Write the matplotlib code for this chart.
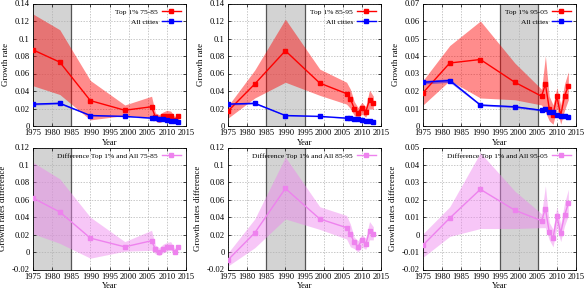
import matplotlib
matplotlib.use("Agg")
import matplotlib.pyplot as plt
import numpy as np

plt.rcParams['font.family'] = ['Liberation Serif', 'DejaVu Serif']

years = [1975, 1982, 1990, 1999, 2006, 2007, 2008, 2009, 2010, 2011, 2012, 2013]

all_cities = [0.025, 0.026, 0.012, 0.011, 0.009, 0.0095, 0.008, 0.008, 0.0065, 0.006, 0.006, 0.005]
all_lo = [0.024, 0.025, 0.0115, 0.0105, 0.0085, 0.009, 0.0075, 0.0075, 0.006, 0.0055, 0.0055, 0.0045]
all_hi = [0.026, 0.027, 0.0125, 0.0115, 0.0095, 0.010, 0.0085, 0.0085, 0.007, 0.0065, 0.0065, 0.0055]

top_75 = [0.087, 0.073, 0.029, 0.018, 0.022, 0.010, 0.008, 0.011, 0.012, 0.012, 0.007, 0.011]
top_75_hi = [0.128, 0.110, 0.052, 0.024, 0.034, 0.015, 0.013, 0.016, 0.018, 0.017, 0.011, 0.014]
top_75_lo = [0.046, 0.036, 0.007, 0.012, 0.010, 0.006, 0.004, 0.006, 0.007, 0.007, 0.004, 0.008]

top_85 = [0.017, 0.048, 0.086, 0.049, 0.037, 0.031, 0.020, 0.015, 0.021, 0.016, 0.030, 0.026]
top_85_hi = [0.023, 0.064, 0.122, 0.065, 0.050, 0.042, 0.028, 0.021, 0.027, 0.022, 0.041, 0.034]
top_85_lo = [0.009, 0.032, 0.050, 0.035, 0.025, 0.020, 0.012, 0.009, 0.014, 0.010, 0.020, 0.019]

top_95 = [0.019, 0.036, 0.038, 0.025, 0.017, 0.024, 0.010, 0.0065, 0.017, 0.006, 0.017, 0.023]
top_95_hi = [0.026, 0.046, 0.060, 0.036, 0.021, 0.040, 0.017, 0.012, 0.022, 0.012, 0.024, 0.031]
top_95_lo = [0.012, 0.026, 0.016, 0.015, 0.012, 0.008, 0.003, 0.001, 0.010, 0.001, 0.009, 0.015]

diff_75 = [0.062, 0.046, 0.016, 0.006, 0.013, 0.003, 0.000, 0.004, 0.006, 0.006, 0.000, 0.006]
diff_75_hi = [0.103, 0.084, 0.040, 0.012, 0.025, 0.008, 0.005, 0.009, 0.011, 0.012, 0.004, 0.008]
diff_75_lo = [0.021, 0.010, -0.007, 0.001, 0.002, -0.002, -0.004, -0.001, 0.001, 0.002, -0.002, 0.004]

diff_85 = [-0.009, 0.022, 0.073, 0.038, 0.028, 0.021, 0.011, 0.006, 0.014, 0.009, 0.024, 0.021]
diff_85_hi = [-0.001, 0.038, 0.109, 0.052, 0.042, 0.032, 0.017, 0.013, 0.020, 0.016, 0.035, 0.029]
diff_85_lo = [-0.016, 0.005, 0.038, 0.026, 0.015, 0.006, 0.004, 0.000, 0.006, 0.003, 0.014, 0.014]

diff_95 = [-0.006, 0.0095, 0.026, 0.014, 0.008, 0.015, 0.0015, -0.002, 0.0105, 0.001, 0.011, 0.018]
diff_95_hi = [0.0005, 0.016, 0.047, 0.025, 0.012, 0.028, 0.007, 0.003, 0.016, 0.006, 0.018, 0.026]
diff_95_lo = [-0.013, -0.001, 0.0035, 0.0035, 0.004, 0.004, -0.003, -0.007, 0.004, -0.004, 0.005, 0.011]

periods = [(1975, 1985), (1985, 1995), (1995, 2005)]
labels_top = ["Top 1% 75-85", "Top 1% 85-95", "Top 1% 95-05"]
labels_diff = ["Difference Top 1% and All 75-85", "Difference Top 1% and All 85-95",
               "Difference Top 1% and All 95-05"]
top_data = [(top_75, top_75_lo, top_75_hi), (top_85, top_85_lo, top_85_hi), (top_95, top_95_lo, top_95_hi)]
diff_data = [(diff_75, diff_75_lo, diff_75_hi), (diff_85, diff_85_lo, diff_85_hi), (diff_95, diff_95_lo, diff_95_hi)]
top_ylim = [(0, 0.14, 0.02), (0, 0.14, 0.02), (0, 0.07, 0.01)]
diff_ylim = [(-0.02, 0.12, 0.02), (-0.02, 0.12, 0.02), (-0.02, 0.05, 0.01)]

W, H = 585, 291
fig = plt.figure(figsize=(W / 100, H / 100), dpi=100)

lefts = [33, 228, 423]
aw = 153
rows = [(3.5, 126), (147.5, 269.5)]

FS = 6.1
LFS = 5.4

def fmt(v):
    if abs(v) < 1e-12:
        return "0"
    s = ("%.2f" % v).rstrip('0').rstrip('.')
    return s

def setup(ax, ylim, period, ylabel):
    lo, hi, step = ylim
    ax.set_xlim(1975, 2015)
    ax.set_ylim(lo, hi)
    ax.axvspan(period[0], period[1], color='#d3d3d3', zorder=0, lw=0)
    for v in period:
        if v > 1975:
            ax.axvline(v, color='#555555', lw=0.9, zorder=1)
    xt = np.arange(1975, 2016, 5)
    ax.set_xticks(xt)
    ax.set_xticklabels([str(int(x)) for x in xt], fontsize=FS)
    yt = np.arange(lo, hi + step / 2, step)
    ax.set_yticks(yt)
    ax.set_yticklabels([fmt(y) for y in yt], fontsize=FS)
    ax.grid(True, color='#b0b0b0', ls=(0, (2, 2)), lw=0.5, zorder=0.5)
    ax.set_axisbelow(True)
    ax.tick_params(direction='in', top=True, right=True, length=2.5, width=0.5)
    ax.tick_params(axis='x', pad=2.5)
    ax.tick_params(axis='y', pad=2.5)
    for s in ax.spines.values():
        s.set_linewidth(0.6)
    ax.set_xlabel("Year", fontsize=FS, labelpad=1.0)
    ax.set_ylabel(ylabel, fontsize=FS + 0.3, labelpad=3)

leg_kw = dict(loc='upper right', frameon=False, fontsize=LFS, markerfirst=False,
              handlelength=2.5, borderaxespad=0.3, borderpad=0.4,
              handletextpad=0.55, labelspacing=0.45)

for i in range(3):
    # top row
    t, b = rows[0]
    ax = fig.add_axes([lefts[i] / W, (H - b) / H, aw / W, (b - t) / H])
    setup(ax, top_ylim[i], periods[i], "Growth rate")
    v, lo, hi = top_data[i]
    ax.fill_between(years, lo, hi, color='#ff0000', alpha=0.45, lw=0, zorder=2)
    ax.fill_between(years, all_lo, all_hi, color='#0000ff', alpha=0.45, lw=0, zorder=2)
    ax.plot(years, v, color='#ff0000', lw=1.0, marker='s', ms=2.5, zorder=3, label=labels_top[i])
    ax.plot(years, all_cities, color='#0000ff', lw=1.0, marker='s', ms=2.5, zorder=3, label="All cities")
    ax.legend(**leg_kw)

    # bottom row
    t, b = rows[1]
    ax = fig.add_axes([lefts[i] / W, (H - b) / H, aw / W, (b - t) / H])
    setup(ax, diff_ylim[i], periods[i], "Growth rates difference")
    v, lo, hi = diff_data[i]
    ax.fill_between(years, lo, hi, color='#ee82ee', alpha=0.45, lw=0, zorder=2)
    ax.plot(years, v, color='#ee82ee', lw=1.0, marker='s', ms=2.5, zorder=3, label=labels_diff[i])
    ax.legend(**leg_kw)

fig.savefig("out.png", dpi=100)
